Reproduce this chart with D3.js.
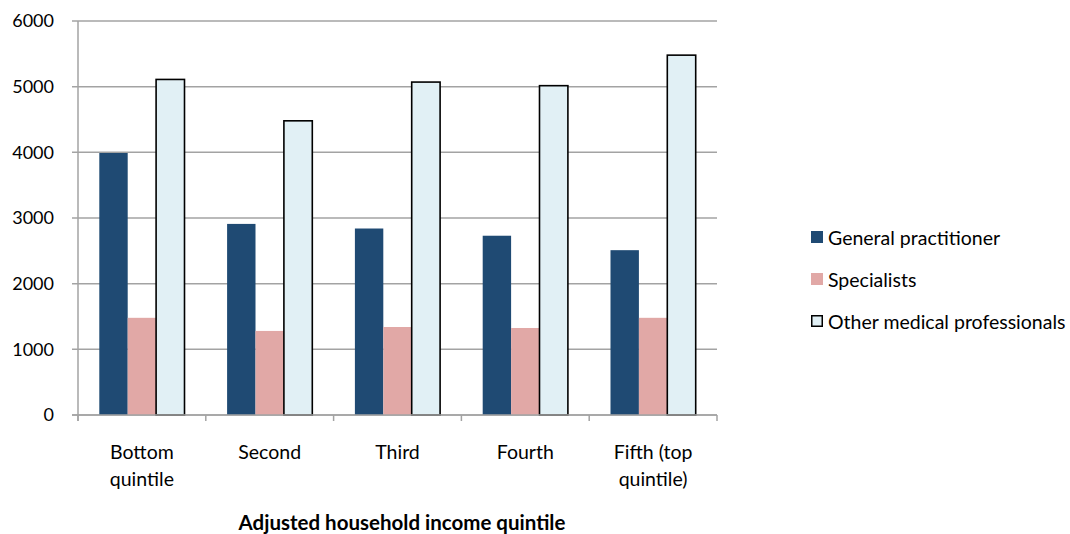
<!DOCTYPE html>
<html>
<head>
<meta charset="utf-8">
<script src="https://cdn.jsdelivr.net/npm/d3@7"></script>
<style>
  html, body { margin: 0; padding: 0; background: #fff; }
  svg { display: block; font-family: Lato, "Open Sans", sans-serif; }
</style>
</head>
<body>
<svg id="chart" width="1070" height="534"></svg>
<script>
// Income quintiles and per-quintile spending by provider type
const categories = [["Bottom", "quintile"], ["Second"], ["Third"], ["Fourth"], ["Fifth (top", "quintile)"]];
const seriesNames = ["General practitioner", "Specialists", "Other medical professionals"];
const generalPractitioner = [3990, 2910, 2840, 2730, 2510];
const specialists = [1480, 1280, 1340, 1325, 1480];
const otherProfessionals = [5110, 4480, 5070, 5015, 5480];
const yTicks = [0, 1000, 2000, 3000, 4000, 5000, 6000];
const xTitle = "Adjusted household income quintile";

const series = [generalPractitioner, specialists, otherProfessionals];
const fills = ["#1F4A73", "#E1A8A6", "#E1F0F5"];
const strokes = ["none", "none", "#000"];

const svg = d3.select("#chart");
const plot = { left: 78, right: 717, top: 21, bottom: 415 };

const x0 = d3.scaleBand()
  .domain(d3.range(categories.length))
  .range([plot.left, plot.right])
  .paddingInner(0).paddingOuter(0);

const x1 = d3.scaleBand()
  .domain(d3.range(series.length))
  .range([x0.bandwidth() / 6, x0.bandwidth() * 5 / 6])
  .padding(0);

const y = d3.scaleLinear().domain([0, 6000]).range([plot.bottom, plot.top]);

// Horizontal gridlines with small left ticks
svg.append("g")
  .selectAll("line")
  .data(yTicks)
  .join("line")
  .attr("x1", plot.left - 6)
  .attr("x2", plot.right)
  .attr("y1", d => y(d))
  .attr("y2", d => y(d))
  .attr("stroke", "#A3A3A3")
  .attr("stroke-width", 1.5);

// Y-axis line
svg.append("line")
  .attr("x1", plot.left).attr("x2", plot.left)
  .attr("y1", plot.top).attr("y2", plot.bottom + 6)
  .attr("stroke", "#A3A3A3").attr("stroke-width", 1.5);

// Y tick labels
svg.append("g")
  .selectAll("text")
  .data(yTicks)
  .join("text")
  .attr("x", 54)
  .attr("y", d => y(d))
  .attr("dy", "0.35em")
  .attr("text-anchor", "end")
  .attr("font-size", 18)
  .attr("fill", "#000")
  .text(d => d);

// Category boundary ticks below the baseline
const boundaries = d3.range(categories.length + 1).map(i =>
  i < categories.length ? x0(i) : x0(categories.length - 1) + x0.bandwidth());
svg.append("g")
  .selectAll("line")
  .data(boundaries)
  .join("line")
  .attr("x1", d => d).attr("x2", d => d)
  .attr("y1", plot.bottom).attr("y2", plot.bottom + 6)
  .attr("stroke", "#A3A3A3").attr("stroke-width", 1.5);

// Bars
const groups = svg.append("g")
  .selectAll("g")
  .data(categories.map((c, i) => i))
  .join("g")
  .attr("transform", i => `translate(${x0(i)},0)`);

groups.selectAll("rect")
  .data(i => series.map((s, k) => ({ k, v: s[i] })))
  .join("rect")
  .attr("x", d => x1(d.k))
  .attr("width", x1.bandwidth())
  .attr("y", d => y(d.v))
  .attr("height", d => y(0) - y(d.v))
  .attr("fill", d => fills[d.k])
  .attr("stroke", d => strokes[d.k])
  .attr("stroke-width", d => d.k === 2 ? 1.6 : 0);

// X baseline drawn over bars
svg.append("line")
  .attr("x1", plot.left - 6).attr("x2", plot.right)
  .attr("y1", plot.bottom).attr("y2", plot.bottom)
  .attr("stroke", "#A3A3A3").attr("stroke-width", 1.5);

// Category labels
const catLabels = svg.append("g")
  .selectAll("text")
  .data(categories.map((c, i) => ({ c, i })))
  .join("text")
  .attr("x", d => x0(d.i) + x0.bandwidth() / 2)
  .attr("y", 459)
  .attr("text-anchor", "middle")
  .attr("font-size", 19.5)
  .attr("fill", "#000");
catLabels.selectAll("tspan")
  .data(d => d.c.map((line, j) => ({ line, j, cx: x0(d.i) + x0.bandwidth() / 2 })))
  .join("tspan")
  .attr("x", d => d.cx)
  .attr("dy", d => d.j === 0 ? 0 : 27)
  .text(d => d.line);

// Axis title
svg.append("text")
  .attr("x", 402)
  .attr("y", 530)
  .attr("text-anchor", "middle")
  .attr("font-size", 20.5)
  .attr("font-weight", "bold")
  .attr("fill", "#000")
  .text(xTitle);

// Legend
const legend = svg.append("g")
  .selectAll("g")
  .data(seriesNames.map((n, k) => ({ n, k })))
  .join("g")
  .attr("transform", d => `translate(811,${231 + d.k * 42})`);
legend.append("rect")
  .attr("x", d => d.k === 2 ? 0.75 : 0)
  .attr("y", d => d.k === 2 ? 0.75 : 0)
  .attr("width", d => d.k === 2 ? 10.5 : 12)
  .attr("height", d => d.k === 2 ? 10.5 : 12)
  .attr("fill", d => fills[d.k])
  .attr("stroke", d => strokes[d.k])
  .attr("stroke-width", d => d.k === 2 ? 1.5 : 0);
legend.append("text")
  .attr("x", 17)
  .attr("y", 14)
  .attr("font-size", 19.5)
  .attr("fill", "#000")
  .text(d => d.n);
</script>
</body>
</html>
